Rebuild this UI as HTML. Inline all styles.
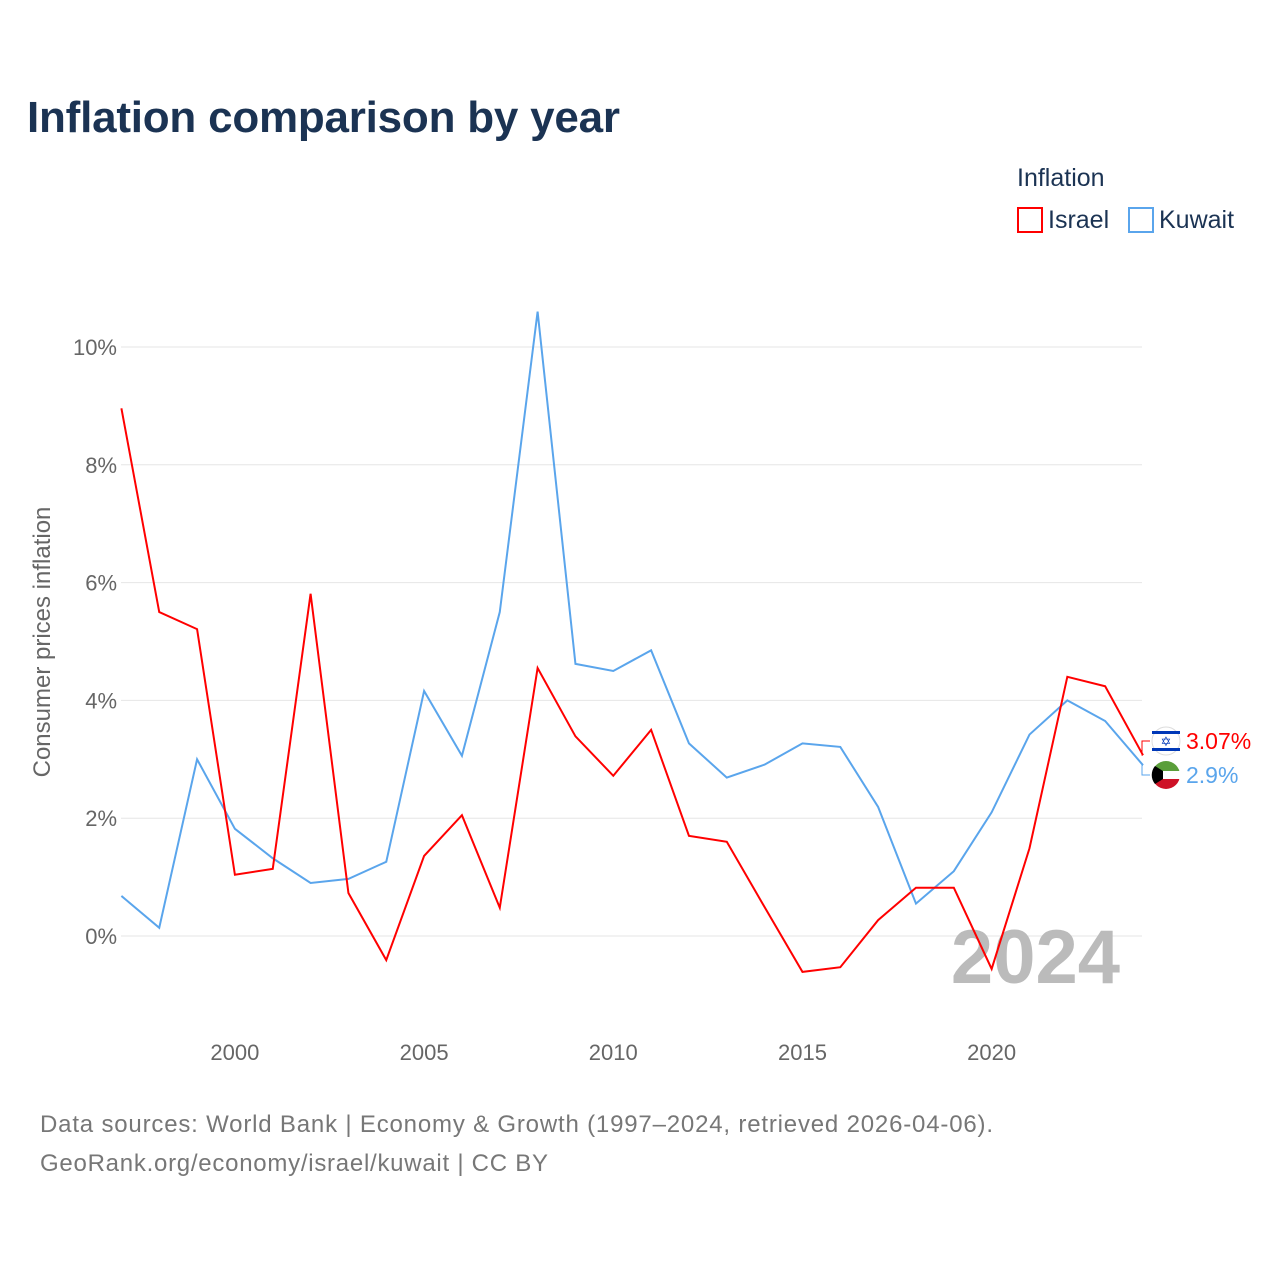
<!DOCTYPE html>
<html><head><meta charset="utf-8"><style>
body{margin:0;background:#fff;font-family:"Liberation Sans",sans-serif}
</style></head><body>
<svg width="1280" height="1280" xmlns="http://www.w3.org/2000/svg" font-family="Liberation Sans, sans-serif">
<rect width="1280" height="1280" fill="#fff"/>
<text x="27" y="132" font-size="44" font-weight="bold" fill="#1b3353" textLength="593">Inflation comparison by year</text>
<g>
<text x="1017" y="186" font-size="25" fill="#1b3353">Inflation</text>
<g><rect x="1018" y="208" width="24" height="24" fill="none" stroke="#f00" stroke-width="2"/><text x="1048" y="228" font-size="25" fill="#1b3353">Israel</text></g>
<g><rect x="1129" y="208" width="24" height="24" fill="none" stroke="#5aa5ec" stroke-width="2"/><text x="1159" y="228" font-size="25" fill="#1b3353">Kuwait</text></g>
</g>
<g id="grid"></g>
<g id="yticks"></g>
<g id="xticks"></g>
<text transform="translate(50,642) rotate(-90)" text-anchor="middle" font-size="24" fill="#666">Consumer prices inflation</text>
<text x="1120" y="983" text-anchor="end" font-size="76" font-weight="bold" fill="#bbb">2024</text>
<g id="series"></g>
<text x="40" y="1132" font-size="24" fill="#777" textLength="953">Data sources: World Bank | Economy &amp; Growth (1997–2024, retrieved 2026-04-06).</text>
<text x="40" y="1171" font-size="24" fill="#777" textLength="508">GeoRank.org/economy/israel/kuwait | CC BY</text>
</svg>
<script>
const years=[1997,1998,1999,2000,2001,2002,2003,2004,2005,2006,2007,2008,2009,2010,2011,2012,2013,2014,2015,2016,2017,2018,2019,2020,2021,2022,2023,2024];
const israel=[8.96,5.5,5.21,1.04,1.14,5.81,0.73,-0.41,1.36,2.05,0.48,4.55,3.39,2.72,3.5,1.7,1.6,0.49,-0.61,-0.53,0.27,0.82,0.82,-0.56,1.49,4.4,4.24,3.07];
const kuwait=[0.68,0.14,3.0,1.82,1.32,0.9,0.97,1.26,4.16,3.06,5.5,10.6,4.62,4.5,4.85,3.27,2.69,2.91,3.27,3.21,2.19,0.55,1.1,2.1,3.42,4.0,3.65,2.9];
const yTicks=[0,2,4,6,8,10];
const xTicks=[2000,2005,2010,2015,2020];
const NS="http://www.w3.org/2000/svg";
const X=y=>121.4+(y-1997)*(1143-121.4)/27;
const Y=v=>936-v*58.9;
function mk(t,a,p){const e=document.createElementNS(NS,t);for(const k in a)e.setAttribute(k,a[k]);p.appendChild(e);return e;}
const grid=document.getElementById('grid'),yt=document.getElementById('yticks'),xt=document.getElementById('xticks'),ser=document.getElementById('series');
yTicks.forEach(v=>{
 const l=mk('line',{x1:121,x2:1142,y1:Y(v),y2:Y(v),stroke:'#e6e6e6','stroke-width':1},grid);
 
 
 const t=mk('text',{x:117,y:Y(v)+8,'text-anchor':'end','font-size':22,fill:'#666'},yt);
 t.textContent=v+'%';
 
 
});
xTicks.forEach(v=>{
 const t=mk('text',{x:X(v),y:1060,'text-anchor':'middle','font-size':22,fill:'#666'},xt);
 t.textContent=v;
 
 
});
function line(vals,color,name){
 const p=mk('polyline',{points:vals.map((v,i)=>X(years[i])+','+Y(v)).join(' '),fill:'none',stroke:color,'stroke-width':2,'stroke-linejoin':'miter'},ser);
 
 
}
line(kuwait,'#5aa5ec','kuwait-line');
line(israel,'#f00','israel-line');
const last=years.length-1;
const iy=741,ky=775;
const c1=mk('path',{d:`M${X(2024)} ${Y(israel[last])} L1142 ${Y(israel[last])} L1142 ${iy} L1150 ${iy}`,fill:'none',stroke:'#f00','stroke-width':1},ser);

const c2=mk('path',{d:`M${X(2024)} ${Y(kuwait[last])} L1142 ${Y(kuwait[last])} L1142 ${ky} L1150 ${ky}`,fill:'none',stroke:'#5aa5ec','stroke-width':1},ser);

const f1=mk('g',{},ser);

mk('circle',{cx:1166,cy:iy,r:14,fill:'#fff',stroke:'#ddd'},f1);
mk('rect',{x:1152,y:iy-10,width:28,height:3,fill:'#0038b8'},f1);
mk('rect',{x:1152,y:iy+7,width:28,height:3,fill:'#0038b8'},f1);
mk('text',{x:1166,y:iy+5,'text-anchor':'middle','font-size':13,fill:'#0038b8'},f1).textContent='✡';
const f2=mk('g',{},ser);

mk('path',{d:`M1152 ${ky} A14 14 0 0 1 1180 ${ky} Z`,fill:'#5a9e3a'},f2);
mk('path',{d:`M1152 ${ky} A14 14 0 0 0 1180 ${ky} Z`,fill:'#ce1126'},f2);
mk('rect',{x:1152,y:ky-4,width:28,height:8,fill:'#fff'},f2);
mk('path',{d:`M1155 ${ky-9} L1163 ${ky-4} L1163 ${ky+4} L1155 ${ky+9} A14 14 0 0 1 1155 ${ky-9} Z`,fill:'#000'},f2);
const t1=mk('text',{x:1186,y:iy+8,'font-size':23,fill:'#f00'},ser);
t1.textContent=israel[last]+'%';

const t2=mk('text',{x:1186,y:ky+8,'font-size':23,fill:'#5aa5ec'},ser);
t2.textContent=kuwait[last]+'%';

</script>
</body></html>
